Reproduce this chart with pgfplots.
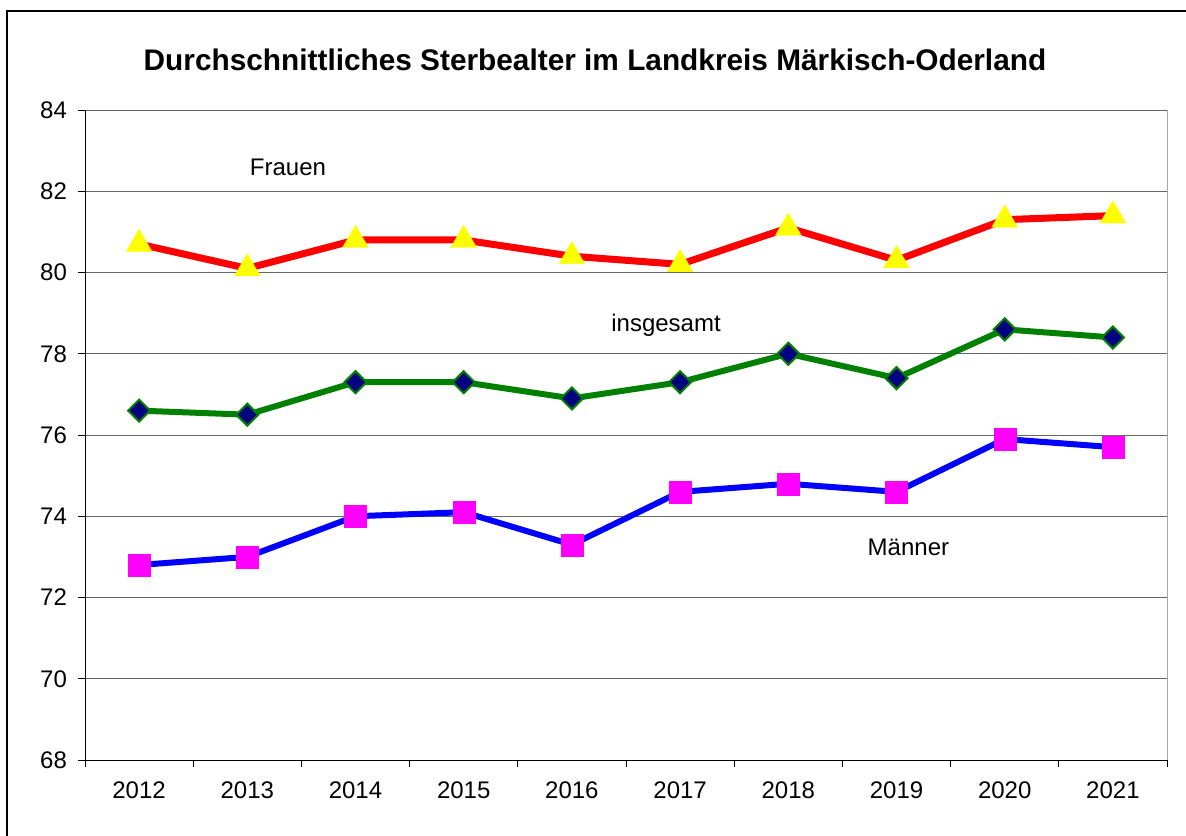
\documentclass[border=0pt]{standalone}
\usepackage{fontspec}
\setmainfont{Liberation Sans}
\usepackage{pgfplots}
\pgfplotsset{compat=1.18}

\definecolor{navyd}{RGB}{0,0,128}
\definecolor{greenl}{RGB}{0,128,0}
\definecolor{magf}{RGB}{255,0,255}
\definecolor{yelf}{RGB}{255,255,0}
\definecolor{redl}{RGB}{255,0,0}
\definecolor{bluel}{RGB}{0,0,255}

\begin{document}
\begin{tikzpicture}
\useasboundingbox (0pt,0pt) rectangle (593pt,417.5pt);
\draw[line width=0.8pt] (3.5pt,-10pt) rectangle (600pt,412pt);
\node[font=\fontsize{14.9}{17}\selectfont\bfseries] at (297.5pt,387.5pt)
  {Durchschnittliches Sterbealter im Landkreis Märkisch-Oderland};
\begin{axis}[
    at={(42.5pt,37.5pt)}, anchor=south west,
    scale only axis,
    width=541pt, height=325pt,
    xmin=0, xmax=10, ymin=68, ymax=84,
    ytick={68,70,...,84},
    xtick={0.5,1.5,...,9.5},
    xticklabels={2012,2013,2014,2015,2016,2017,2018,2019,2020,2021},
    minor xtick={0,1,...,10},
    tick align=outside,
    major tick length=3.5pt, minor tick length=3.5pt,
    xtick style={draw=none},
    minor x tick style={draw=black, thin},
    y tick style={draw=black, thin},
    axis x line*=bottom, axis y line*=left,
    axis line style={-, black, thin},
    ymajorgrids, major grid style={draw=gray!80!black, thin},
    extra x ticks={10}, extra x tick labels={},
    extra x tick style={grid=major, major grid style={draw=gray!70, thin}, major tick length=0pt},
    tick label style={font=\fontsize{12}{14}\selectfont},
    /pgf/number format/assume math mode=true,
    xticklabel style={yshift=-4pt},
    yticklabel style={xshift=-2pt},
    clip=false,
]
\addplot[redl, line width=3.5pt, mark=triangle*, mark size=7.5pt,
  mark options={solid, fill=yelf, draw=yelf, line width=0.1pt}] coordinates {
  (0.5,80.7)(1.5,80.1)(2.5,80.8)(3.5,80.8)(4.5,80.4)
  (5.5,80.2)(6.5,81.1)(7.5,80.3)(8.5,81.3)(9.5,81.4)};
\addplot[greenl, line width=3pt, mark=square*, mark size=3.9pt,
  mark options={solid, rotate=45, fill=navyd, draw=greenl, line width=1pt}] coordinates {
  (0.5,76.6)(1.5,76.5)(2.5,77.3)(3.5,77.3)(4.5,76.9)
  (5.5,77.3)(6.5,78.0)(7.5,77.4)(8.5,78.6)(9.5,78.4)};
\addplot[bluel, line width=3pt, mark=square*, mark size=5.5pt,
  mark options={solid, fill=magf, draw=magf, line width=0.1pt}] coordinates {
  (0.5,72.8)(1.5,73.0)(2.5,74.0)(3.5,74.1)(4.5,73.3)
  (5.5,74.6)(6.5,74.8)(7.5,74.6)(8.5,75.9)(9.5,75.7)};
\node[font=\fontsize{12}{14}\selectfont] at (axis cs:1.876,82.6) {Frauen};
\node[font=\fontsize{12}{14}\selectfont] at (axis cs:5.37,78.7) {insgesamt};
\node[font=\fontsize{12}{14}\selectfont] at (axis cs:7.61,73.24) {Männer};
\end{axis}
\end{tikzpicture}
\end{document}
